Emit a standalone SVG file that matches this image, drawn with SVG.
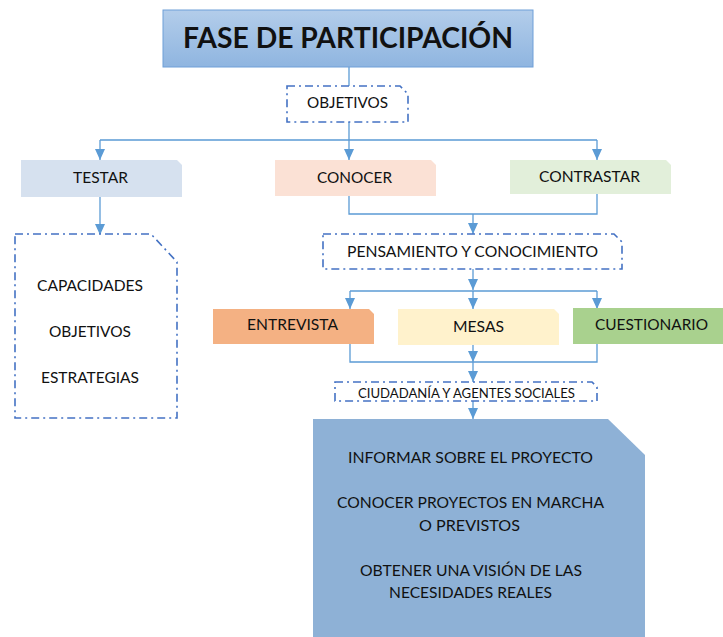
<svg xmlns="http://www.w3.org/2000/svg" width="723" height="637" viewBox="0 0 723 637">
<defs>
<linearGradient id="tg" x1="0" y1="0" x2="0" y2="1">
<stop offset="0" stop-color="#b3cdea"/>
<stop offset="1" stop-color="#8fb5e0"/>
</linearGradient>
<marker id="ah" markerUnits="userSpaceOnUse" markerWidth="12" markerHeight="10" refX="11" refY="5" orient="auto">
<path d="M0,0 L11,5 L0,10 Z" fill="#5b9bd5"/>
</marker>
<style>
text{font-family:Lato,"Open Sans","Liberation Sans",sans-serif;fill:#111;text-anchor:middle}
.t{font-size:15px}
.s{font-size:13px}
.dash{fill:#fff;stroke:#4472c4;stroke-width:1.6;stroke-dasharray:8 4 2 4}
.ln{fill:none;stroke:#5b9bd5;stroke-width:1.3}
.ar{fill:none;stroke:#5b9bd5;stroke-width:1.3;marker-end:url(#ah)}
</style>
</defs>
<rect width="723" height="637" fill="#fff"/>

<g id="connectors">
<path class="ln" d="M349,67 V86"/>
<path class="ln" d="M349,122 V140 M100,140 H597"/>
<path class="ar" d="M100,140 V160"/>
<path class="ar" d="M349,140 V160"/>
<path class="ar" d="M597,140 V160"/>
<path class="ar" d="M100,197 V235"/>
<path class="ln" d="M349,196 V214 H597 V194"/>
<path class="ar" d="M473,214 V234"/>
<path class="ar" d="M473,269 V290"/>
<path class="ln" d="M350,291 H597"/>
<path class="ar" d="M350,291 V309"/>
<path class="ar" d="M473,291 V309"/>
<path class="ar" d="M597,291 V309"/>
<path class="ln" d="M350,344 V362 H597 V344"/>
<path class="ar" d="M473,345 V362"/>
<path class="ar" d="M473,362 V382"/>
<path class="ar" d="M473,401 V419"/>
</g>

<g id="title">
<rect x="163" y="10" width="370" height="57" fill="url(#tg)" stroke="#6f9fd8" stroke-width="1"/>
<text x="348" y="48" style="font-size:28px;font-weight:bold" textLength="330" lengthAdjust="spacingAndGlyphs">FASE DE PARTICIPACIÓN</text>
</g>

<g id="objetivos">
<path class="dash" d="M287,86 H400 L408,94 V122 H287 Z"/>
<text class="t" x="347.5" y="108" textLength="81" lengthAdjust="spacingAndGlyphs">OBJETIVOS</text>
</g>

<g id="testar">
<path d="M21,160 H177 L182,165 V197 H21 Z" fill="#d6e1ef"/>
<text class="t" x="100.5" y="183" textLength="55" lengthAdjust="spacingAndGlyphs">TESTAR</text>
</g>

<g id="conocer">
<path d="M275,160 H431 L436,165 V196 H275 Z" fill="#fbe1d5"/>
<text class="t" x="354.5" y="183" textLength="75" lengthAdjust="spacingAndGlyphs">CONOCER</text>
</g>

<g id="contrastar">
<path d="M510,160 H666 L671,165 V194 H510 Z" fill="#e2efda"/>
<text class="t" x="589.5" y="182" textLength="101" lengthAdjust="spacingAndGlyphs">CONTRASTAR</text>
</g>

<g id="lista">
<path class="dash" d="M15,234 H151 L177,262 V418 H15 Z"/>
<text class="t" x="90" y="291" textLength="106" lengthAdjust="spacingAndGlyphs">CAPACIDADES</text>
<text class="t" x="90" y="337" textLength="82" lengthAdjust="spacingAndGlyphs">OBJETIVOS</text>
<text class="t" x="90" y="383" textLength="98" lengthAdjust="spacingAndGlyphs">ESTRATEGIAS</text>
</g>

<g id="pensamiento">
<path class="dash" d="M323,234 H614 L622,242 V269 H323 Z"/>
<text class="t" x="472.5" y="257" textLength="251" lengthAdjust="spacingAndGlyphs">PENSAMIENTO Y CONOCIMIENTO</text>
</g>

<g id="entrevista">
<path d="M213,309 H369 L374,314 V344 H213 Z" fill="#f4b183"/>
<text class="t" x="292.5" y="330" textLength="91" lengthAdjust="spacingAndGlyphs">ENTREVISTA</text>
</g>

<g id="mesas">
<path d="M398,309 H554 L559,314 V345 H398 Z" fill="#fff2cc"/>
<text class="t" x="478.5" y="332" textLength="51" lengthAdjust="spacingAndGlyphs">MESAS</text>
</g>

<g id="cuestionario">
<rect x="573" y="308" width="150" height="36" fill="#a9d18e"/>
<text class="t" x="651.5" y="330" textLength="113" lengthAdjust="spacingAndGlyphs">CUESTIONARIO</text>
</g>

<g id="ciudadania">
<path class="dash" d="M335,382 H592 L597,387 V401 H335 Z"/>
<text class="s" x="466.5" y="398" textLength="217" lengthAdjust="spacingAndGlyphs">CIUDADANÍA Y AGENTES SOCIALES</text>
</g>

<g id="informar">
<path d="M313,419 H608 L645,455 V637 H313 Z" fill="#8eb1d6"/>
<text class="t" x="470.5" y="463" textLength="245" lengthAdjust="spacingAndGlyphs">INFORMAR SOBRE EL PROYECTO</text>
<text class="t" x="470.5" y="508" textLength="267" lengthAdjust="spacingAndGlyphs">CONOCER PROYECTOS EN MARCHA</text>
<text class="t" x="469.5" y="531" textLength="101" lengthAdjust="spacingAndGlyphs">O PREVISTOS</text>
<text class="t" x="471" y="576" textLength="222" lengthAdjust="spacingAndGlyphs">OBTENER UNA VISIÓN DE LAS</text>
<text class="t" x="470.5" y="598" textLength="163" lengthAdjust="spacingAndGlyphs">NECESIDADES REALES</text>
</g>
</svg>
